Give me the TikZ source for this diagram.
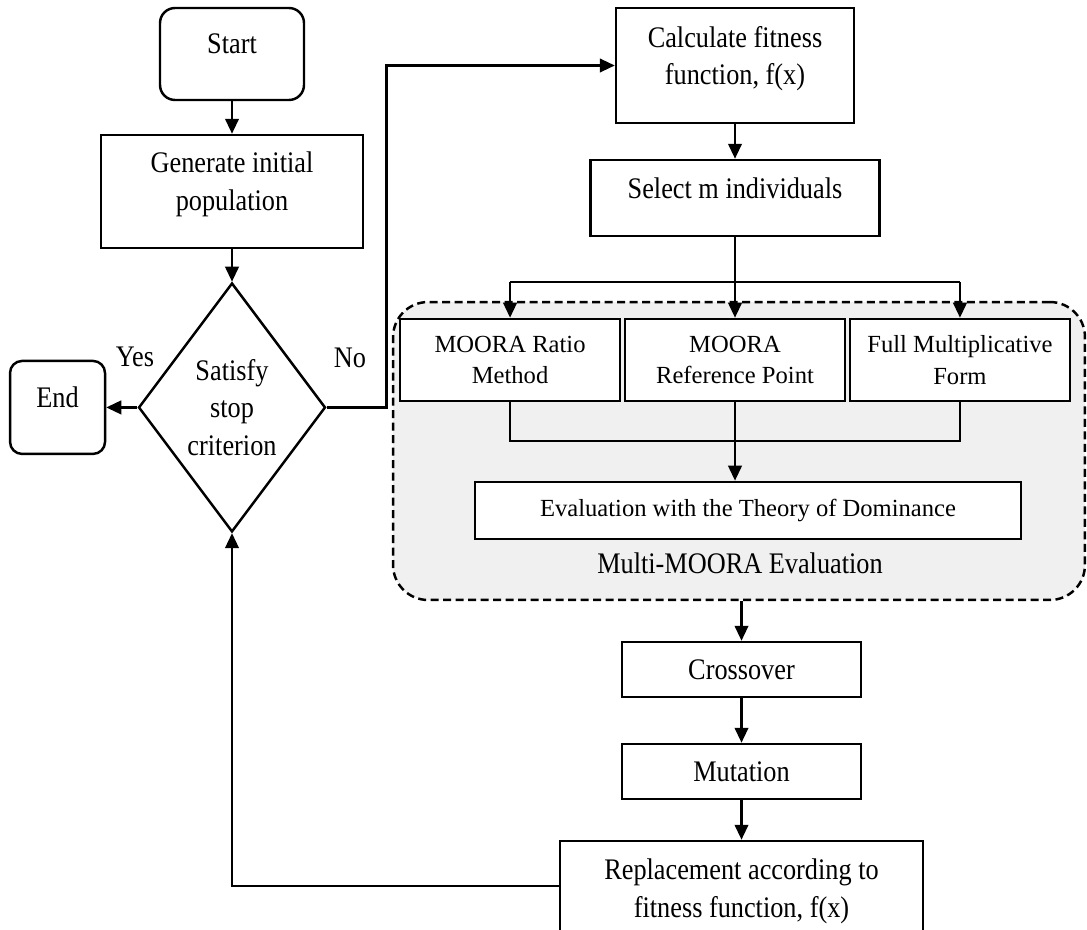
\documentclass[tikz,border=0pt]{standalone}
\usepackage{fontspec}
\setmainfont{Liberation Serif}[FakeStretch=0.88]
\newfontfamily\moorafont{Liberation Serif}
\usetikzlibrary{shapes.geometric, positioning, arrows.meta}

\begin{document}
\begin{tikzpicture}[x=0.02cm,y=-0.02cm,on grid,line width=1.4pt,
  >={Triangle[length=0.3cm,width=0.27cm]},
  font=\fontsize{17}{21.5}\selectfont,
  block/.style={draw,fill=white,align=center,inner sep=0pt},
  raised/.style={text depth=0.4cm},
  terminal/.style={block,raised,rounded corners=0.3cm},
  decision/.style={draw,diamond,fill=white,align=center,inner sep=0pt,
    minimum width=3.74cm,minimum height=4.98cm},
  method/.style={block,font=\moorafont\fontsize{14}{18}\selectfont,
    minimum width=4.4cm,minimum height=1.64cm},
  thinline/.style={line width=0.7pt},
  region/.style={draw,dash pattern=on 0.16cm off 0.09cm,fill=black!6,
    rounded corners=0.7cm,inner sep=0pt}]
\useasboundingbox (0,0) rectangle (1087,929);

% evaluation area
\node[region,minimum width=13.84cm,minimum height=5.96cm] (moora) at (739,451) {};
\node (mlabel) at (740,563) {Multi-MOORA Evaluation};

% left column
\node[terminal,minimum width=2.88cm,minimum height=1.84cm] (start) at (232,54) {Start};
\node[block,raised,minimum width=5.24cm,minimum height=2.26cm] (init) [below=2.75cm of start] {Generate initial\\population};
\node[decision] (stop) [below=4.32cm of init] {Satisfy\\stop\\criterion};
\node[terminal,rounded corners=0.24cm,minimum width=1.9cm,minimum height=1.86cm] (end) [left=3.49cm of stop] {End};
\node (yes) at (135,357) {Yes};
\node (no) at (350,358) {No};

% right column
\node[block,raised,minimum width=4.76cm,minimum height=2.3cm] (fit) at (735,65.5) {Calculate fitness\\function, f(x)};
\node[block,raised,minimum width=5.78cm,minimum height=1.52cm] (select) [below=2.65cm of fit] {Select m individuals};
\node[method] (refpt) [below=3.24cm of select] {MOORA\\Reference Point};
\node[method] (ratio) [left=4.5cm of refpt] {MOORA Ratio\\Method};
\node[method] (fmf) [right=4.5cm of refpt] {Full Multiplicative\\Form};
\node[block,font=\moorafont\fontsize{14}{18}\selectfont,minimum width=10.92cm,minimum height=1.14cm]
  (dom) [below=3.01cm of refpt,xshift=0.26cm] {Evaluation with the Theory of Dominance};
\node[block,minimum width=4.78cm,minimum height=1.1cm] (cross) at (741.5,669.5) {Crossover};
\node[block,minimum width=4.78cm,minimum height=1.1cm] (mut) [below=2.04cm of cross] {Mutation};
\node[block,minimum width=7.26cm,minimum height=2cm] (repl) [below=2.39cm of mut] {Replacement according to\\fitness function, f(x)};

\coordinate (split) at (735,282);
\coordinate (join) at (735,441);

\draw[->] (start) -- (init);
\draw[->] (init) -- (stop);
\draw[->] (stop) -- (end);
\draw[->] (stop.east) -- ++(60,0) |- (fit.west);
\draw[->] (fit) -- (select);

% branches to the three methods
\draw[thinline] (select) -- (split);
\draw[thinline] (split -| ratio) -- (split -| fmf);
\draw[->] (split -| ratio) -- (ratio);
\draw[->] (split) -- (refpt);
\draw[->] (split -| fmf) -- (fmf);
\draw[thinline] (ratio) -- (ratio |- join) -- (fmf |- join) -- (fmf);
\draw[thinline] (refpt) -- (join);
\draw[->] (join) -- (join |- dom.north);

\draw[->] (moora.south -| cross) -- (cross);
\draw[->] (cross) -- (mut);
\draw[->] (mut) -- (repl);
\draw[->] ([yshift=0.1cm]repl.west) -| (stop);
\end{tikzpicture}
\end{document}
